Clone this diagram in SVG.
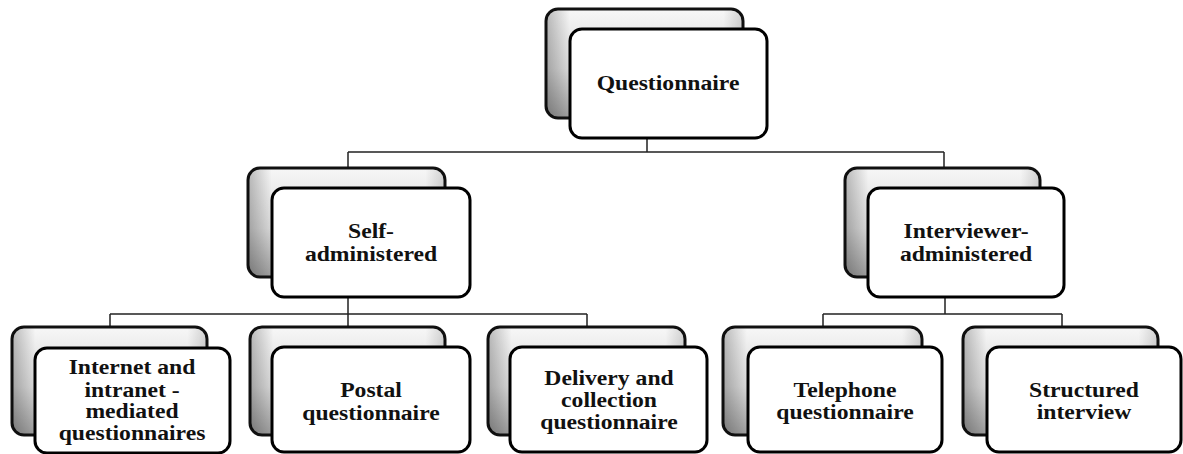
<svg xmlns="http://www.w3.org/2000/svg" width="1183" height="454" viewBox="0 0 1183 454">
<defs>
<linearGradient id="sh" x1="0" y1="0" x2="0" y2="1">
<stop offset="0" stop-color="#f7f7f7"/>
<stop offset="0.55" stop-color="#d8d8d8"/>
<stop offset="1" stop-color="#9c9c9c"/>
</linearGradient>
<linearGradient id="shx" x1="0" y1="0" x2="1" y2="0">
<stop offset="0" stop-color="#000" stop-opacity="0.25"/>
<stop offset="0.12" stop-color="#000" stop-opacity="0"/>
<stop offset="0.9" stop-color="#000" stop-opacity="0"/>
<stop offset="1" stop-color="#000" stop-opacity="0.15"/>
</linearGradient>
</defs>
<style>
.back{fill:url(#sh);stroke:#111;stroke-width:3}
.backx{fill:url(#shx);stroke:none}
.front{fill:#fff;stroke:#000;stroke-width:3}
.lbl{font-family:"Liberation Serif","Times New Roman",serif;font-weight:bold;font-size:21.5px;fill:#111;text-anchor:middle}
.conn{fill:none;stroke:#222;stroke-width:1.5}
</style>
<g id="connectors" class="conn">
<path d="M647 138V152M348 152H944M348 152V168M944 152V168"/>
<path d="M348 297V314M110 314H587M110 314V327M348 314V327M587 314V327"/>
<path d="M945 297V314M823 314H1062M823 314V327M1062 314V327"/>
</g>
<g id="questionnaire">
<rect class="back" x="546" y="9" width="197" height="109" rx="12"/>
<rect class="backx" x="546" y="9" width="197" height="109" rx="12"/>
<rect class="front" x="570" y="29" width="197" height="109" rx="12"/>
<text class="lbl" transform="matrix(1.1 0 0 1 668 0)"><tspan x="0" y="90">Questionnaire</tspan></text>
</g>
<g id="self-administered">
<rect class="back" x="248" y="168" width="197" height="109" rx="12"/>
<rect class="backx" x="248" y="168" width="197" height="109" rx="12"/>
<rect class="front" x="272" y="188" width="198" height="109" rx="12"/>
<text class="lbl" transform="matrix(1.1 0 0 1 371 0)"><tspan x="0" y="238">Self-</tspan><tspan x="0" y="261">administered</tspan></text>
</g>
<g id="interviewer-administered">
<rect class="back" x="845" y="168" width="195" height="109" rx="12"/>
<rect class="backx" x="845" y="168" width="195" height="109" rx="12"/>
<rect class="front" x="868" y="188" width="196" height="109" rx="12"/>
<text class="lbl" transform="matrix(1.1 0 0 1 966 0)"><tspan x="0" y="238">Interviewer-</tspan><tspan x="0" y="261">administered</tspan></text>
</g>
<g id="internet">
<rect class="back" x="12" y="327" width="195" height="108" rx="12"/>
<rect class="backx" x="12" y="327" width="195" height="108" rx="12"/>
<rect class="front" x="35" y="348" width="195" height="105" rx="12"/>
<text class="lbl" transform="matrix(1.1 0 0 1 132 0)"><tspan x="0" y="374">Internet and</tspan><tspan x="0" y="397">intranet -</tspan><tspan x="0" y="418">mediated</tspan><tspan x="0" y="440">questionnaires</tspan></text>
</g>
<g id="postal">
<rect class="back" x="250" y="327" width="195" height="108" rx="12"/>
<rect class="backx" x="250" y="327" width="195" height="108" rx="12"/>
<rect class="front" x="272" y="347" width="198" height="105" rx="12"/>
<text class="lbl" transform="matrix(1.1 0 0 1 371 0)"><tspan x="0" y="397">Postal</tspan><tspan x="0" y="420">questionnaire</tspan></text>
</g>
<g id="delivery">
<rect class="back" x="488" y="327" width="197" height="108" rx="12"/>
<rect class="backx" x="488" y="327" width="197" height="108" rx="12"/>
<rect class="front" x="510" y="347" width="197" height="105" rx="12"/>
<text class="lbl" transform="matrix(1.1 0 0 1 609 0)"><tspan x="0" y="385">Delivery and</tspan><tspan x="0" y="407">collection</tspan><tspan x="0" y="429">questionnaire</tspan></text>
</g>
<g id="telephone">
<rect class="back" x="723" y="327" width="199" height="108" rx="12"/>
<rect class="backx" x="723" y="327" width="199" height="108" rx="12"/>
<rect class="front" x="748" y="347" width="194" height="105" rx="12"/>
<text class="lbl" transform="matrix(1.1 0 0 1 845 0)"><tspan x="0" y="397">Telephone</tspan><tspan x="0" y="419">questionnaire</tspan></text>
</g>
<g id="structured">
<rect class="back" x="963" y="327" width="195" height="108" rx="12"/>
<rect class="backx" x="963" y="327" width="195" height="108" rx="12"/>
<rect class="front" x="987" y="347" width="194" height="105" rx="12"/>
<text class="lbl" transform="matrix(1.1 0 0 1 1084 0)"><tspan x="0" y="397">Structured</tspan><tspan x="0" y="419">interview</tspan></text>
</g>
</svg>
